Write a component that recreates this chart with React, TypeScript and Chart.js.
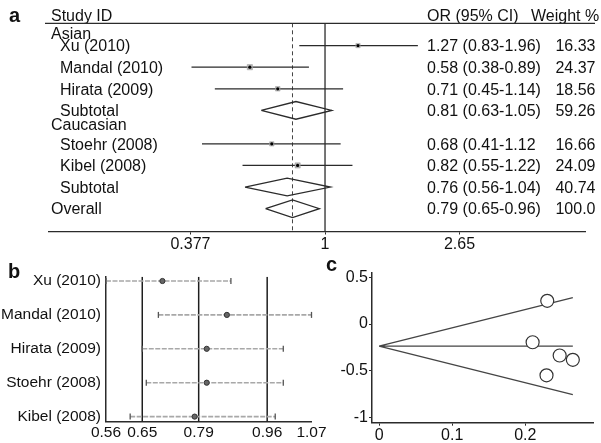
import React, { useEffect, useRef } from "react";
import { Chart, registerables } from "chart.js";
Chart.register(...registerables);

const FONT = "'Liberation Sans', Arial, Helvetica, sans-serif";
const INK = "#111";
const LINE = "#2b2b2b";

// ---------- Panel a : forest plot ----------
const rowLabels = ["Asian", "Xu (2010)", "Mandal (2010)", "Hirata (2009)", "Subtotal", "Caucasian", "Stoehr (2008)", "Kibel (2008)", "Subtotal", "Overall"];
const rowKinds = ["group", "study", "study", "study", "subtotal", "group", "study", "study", "subtotal", "overall"];
const orEstimate = [NaN, 1.27, 0.58, 0.71, 0.81, NaN, 0.68, 0.82, 0.76, 0.79];
const orLower = [NaN, 0.83, 0.38, 0.45, 0.63, NaN, 0.41, 0.55, 0.56, 0.65];
const orUpper = [NaN, 1.96, 0.89, 1.14, 1.05, NaN, 1.12, 1.22, 1.04, 0.96];
const orTexts = ["", "1.27 (0.83-1.96)", "0.58 (0.38-0.89)", "0.71 (0.45-1.14)", "0.81 (0.63-1.05)", "", "0.68 (0.41-1.12", "0.82 (0.55-1.22)", "0.76 (0.56-1.04)", "0.79 (0.65-0.96)"];
const weightTexts = ["", "16.33", "24.37", "18.56", "59.26", "", "16.66", "24.09", "40.74", "100.0"];
const studyWeights = [NaN, 16.33, 24.37, 18.56, NaN, NaN, 16.66, 24.09, NaN, NaN];
const forestTicks = [0.377, 1, 2.65];
const forestTickLabels = ["0.377", "1", "2.65"];
const nullEffect = 1;
const overallOR = 0.79;

// ---------- Panel b : sensitivity analysis ----------
const sensStudies = ["Xu (2010)", "Mandal (2010)", "Hirata (2009)", "Stoehr (2008)", "Kibel (2008)"];
const sensEstimate = [0.7, 0.86, 0.81, 0.81, 0.78];
const sensLower = [0.56, 0.69, 0.65, 0.66, 0.62];
const sensUpper = [0.87, 1.07, 1.0, 1.0, 0.98];
const sensTicks = [0.56, 0.65, 0.79, 0.96, 1.07];
const sensRefLines = [0.65, 0.79, 0.96];

// ---------- Panel c : Begg's funnel plot ----------
const funnelSE = [0.23, 0.21, 0.247, 0.265, 0.229];
const funnelLogOR = [0.248, -0.195, -0.337, -0.383, -0.549];
const funnelPooled = -0.236;
const funnelMaxSE = 0.265;
const funnelTicksX = [0, 0.1, 0.2];
const funnelTicksY = [0.5, 0, -0.5, -1];

// layout of forest rows (group headers take a shorter step)
function rowPositions(kinds: string[]) {
  const pos: number[] = [];
  let p = 0;
  kinds.forEach((k, i) => {
    if (i > 0) {
      if (k === "group") p += 0.62;
      else if (kinds[i - 1] === "group") p += i - 1 === 0 ? 0.56 : 0.93;
      else p += 1;
    }
    pos.push(p);
  });
  return pos;
}
const rowPos = rowPositions(rowKinds);

const font16 = { family: FONT, size: 16 };

function forestConfig(): any {
  const ci: any[] = [];
  const diamonds: any[] = [];
  const boxes: any[] = [];
  const boxR: number[] = [];
  const dots: any[] = [];
  const h = 0.41;
  rowKinds.forEach((k, i) => {
    const y = rowPos[i];
    if (k === "study") {
      ci.push({ x: orLower[i], y }, { x: orUpper[i], y }, { x: orUpper[i], y: null });
      boxes.push({ x: orEstimate[i], y });
      boxR.push(0.75 * Math.sqrt(studyWeights[i]));
      dots.push({ x: orEstimate[i], y });
    } else if (k === "subtotal" || k === "overall") {
      diamonds.push(
        { x: orLower[i], y },
        { x: orEstimate[i], y: y - h },
        { x: orUpper[i], y },
        { x: orEstimate[i], y: y + h },
        { x: orLower[i], y },
        { x: orLower[i], y: null }
      );
    }
  });
  const yMin = -0.472;
  const yMax = 9.167;
  const textPlugin = {
    id: "forestText",
    afterDraw(chart: any) {
      const { ctx, chartArea } = chart;
      const ys = chart.scales.y;
      ctx.save();
      ctx.fillStyle = INK;
      ctx.font = `16px ${FONT}`;
      ctx.textBaseline = "alphabetic";
      ctx.textAlign = "left";
      ctx.fillText("Study ID", 51, 20.5);
      ctx.fillText("OR (95% CI)", 427, 20.5);
      ctx.fillText("Weight %", 531, 20.5);
      ctx.strokeStyle = LINE;
      ctx.lineWidth = 1.3;
      ctx.beginPath();
      ctx.moveTo(45, chartArea.top);
      ctx.lineTo(595, chartArea.top);
      ctx.stroke();
      rowLabels.forEach((lab, i) => {
        const py = ys.getPixelForValue(rowPos[i]) + 5.75;
        const k = rowKinds[i];
        ctx.textAlign = "left";
        ctx.fillText(lab, k === "group" || k === "overall" ? 51 : 60, py);
        ctx.fillText(orTexts[i], 427, py);
        ctx.textAlign = "right";
        ctx.fillText(weightTexts[i], 595.5, py);
      });
      ctx.textAlign = "left";
      ctx.font = `bold 20px ${FONT}`;
      ctx.fillText("a", 9, 21.7);
      ctx.restore();
    },
  };
  return {
    type: "scatter",
    data: {
      datasets: [
        { data: dots, pointRadius: 1.6, pointBackgroundColor: "#000", pointBorderWidth: 0, order: 0 },
        { data: boxes, pointStyle: "rect", pointRadius: boxR, pointBackgroundColor: "#b4b4b4", pointBorderColor: "#9a9a9a", pointBorderWidth: 0.5, order: 1 },
        { data: ci, showLine: true, borderColor: LINE, borderWidth: 1.3, pointRadius: 0, order: 2 },
        { data: diamonds, showLine: true, borderColor: LINE, borderWidth: 1.3, pointRadius: 0, order: 3 },
        { data: [{ x: nullEffect, y: yMin }, { x: nullEffect, y: yMax }], showLine: true, borderColor: LINE, borderWidth: 1.3, pointRadius: 0, order: 4 },
        { data: [{ x: overallOR, y: yMin }, { x: overallOR, y: yMax }], showLine: true, borderColor: "#444", borderWidth: 1, borderDash: [4, 3], pointRadius: 0, order: 5 },
      ],
    },
    options: {
      animation: false,
      responsive: false,
      devicePixelRatio: 1,
      layout: { padding: { left: 49, right: 16, top: 23.3, bottom: 0 } },
      plugins: { legend: { display: false }, tooltip: { enabled: false } },
      scales: {
        x: {
          type: "logarithmic",
          min: 0.1353,
          max: 6.58,
          afterBuildTicks: (s: any) => { s.ticks = forestTicks.map((v) => ({ value: v })); },
          afterFit: (s: any) => { s.height = 256 - 231.5; },
          ticks: { font: font16, color: INK, padding: 0, maxRotation: 0, autoSkip: false, callback: (_v: any, i: number) => forestTickLabels[i] },
          grid: { drawOnChartArea: false, drawTicks: true, tickLength: 3, color: LINE, lineWidth: 1 },
          border: { color: LINE, width: 1.3 },
        },
        y: { type: "linear", display: false, reverse: true, min: yMin, max: yMax },
      },
    },
    plugins: [textPlugin],
  };
}

function sensConfig(): any {
  const bars: any[] = [];
  const caps: any[] = [];
  const dots: any[] = [];
  sensStudies.forEach((_, i) => {
    bars.push({ x: sensLower[i], y: i }, { x: sensUpper[i], y: i }, { x: sensUpper[i], y: null });
    caps.push({ x: sensLower[i], y: i }, { x: sensUpper[i], y: i });
    dots.push({ x: sensEstimate[i], y: i });
  });
  const yMin = -0.127;
  const yMax = 4.15;
  const refs = sensRefLines.map((v, j) => ({
    data: [{ x: v, y: yMin }, { x: v, y: yMax }],
    showLine: true,
    borderColor: "#1e1e1e",
    borderWidth: 1.5,
    pointRadius: 0,
    order: 5 + j,
  }));
  const letter = {
    id: "letterB",
    afterDraw(chart: any) {
      const { ctx } = chart;
      ctx.save();
      ctx.fillStyle = INK;
      ctx.font = `bold 20px ${FONT}`;
      ctx.textAlign = "left";
      ctx.textBaseline = "alphabetic";
      ctx.fillText("b", 8, 28.3);
      ctx.restore();
    },
  };
  return {
    type: "scatter",
    data: {
      datasets: [
        { data: dots, pointRadius: 2.6, pointBackgroundColor: "#666", pointBorderColor: "#333", pointBorderWidth: 1, order: 0 },
        { data: caps, pointStyle: "line", pointRotation: 90, pointRadius: 3, pointBorderColor: "#555", pointBorderWidth: 1.3, clip: false, order: 1 },
        { data: bars, showLine: true, borderColor: "#a8a8a8", borderWidth: 1.6, borderDash: [5, 1.5], pointRadius: 0, order: 2 },
        ...refs,
      ],
    },
    options: {
      animation: false,
      responsive: false,
      devicePixelRatio: 1,
      layout: { padding: { left: 0, right: 18.5, top: 26.7, bottom: 0 } },
      plugins: { legend: { display: false }, tooltip: { enabled: false } },
      scales: {
        x: {
          type: "linear",
          min: 0.56,
          max: 1.07,
          afterBuildTicks: (s: any) => { s.ticks = sensTicks.map((v) => ({ value: v })); },
          afterFit: (s: any) => { s.height = 193 - 171.7; },
          ticks: { font: { family: FONT, size: 15.5 }, color: INK, padding: 2, maxRotation: 0, autoSkip: false, callback: (v: any) => Number(v).toFixed(2) },
          grid: { display: false, drawTicks: false },
          border: { color: LINE, width: 1.5 },
        },
        y: {
          type: "linear",
          reverse: true,
          min: yMin,
          max: yMax,
          afterBuildTicks: (s: any) => { s.ticks = sensStudies.map((_, i) => ({ value: i })); },
          afterFit: (s: any) => { s.width = 106; },
          ticks: { font: { family: FONT, size: 15.5 }, color: INK, padding: 5, autoSkip: false, callback: (v: any) => sensStudies[v] ?? "" },
          grid: { display: false, drawTicks: false },
          border: { color: LINE, width: 1.5 },
        },
      },
    },
    plugins: [letter],
  };
}

function funnelConfig(): any {
  const lines: any[] = [];
  const z = 1.96;
  [0, 1, -1].forEach((s) => {
    lines.push(
      { x: 0, y: funnelPooled },
      { x: funnelMaxSE, y: funnelPooled + s * z * funnelMaxSE },
      { x: funnelMaxSE, y: null }
    );
  });
  const pts = funnelSE.map((se, i) => ({ x: se, y: funnelLogOR[i] }));
  const letter = {
    id: "letterC",
    afterDraw(chart: any) {
      const { ctx } = chart;
      ctx.save();
      ctx.fillStyle = INK;
      ctx.font = `bold 20px ${FONT}`;
      ctx.textAlign = "left";
      ctx.textBaseline = "alphabetic";
      ctx.fillText("c", 26, 20.7);
      ctx.restore();
    },
  };
  return {
    type: "scatter",
    data: {
      datasets: [
        { data: pts, pointRadius: 6.5, pointBackgroundColor: "#fff", pointBorderColor: "#333", pointBorderWidth: 1.2, order: 0 },
        { data: lines, showLine: true, borderColor: "#444", borderWidth: 1.3, pointRadius: 0, order: 1 },
      ],
    },
    options: {
      animation: false,
      responsive: false,
      devicePixelRatio: 1,
      layout: { padding: { left: 0, right: 1, top: 22.7, bottom: 0 } },
      plugins: { legend: { display: false }, tooltip: { enabled: false } },
      scales: {
        x: {
          type: "linear",
          min: -0.0097,
          max: 0.293,
          afterBuildTicks: (s: any) => { s.ticks = funnelTicksX.map((v) => ({ value: v })); },
          afterFit: (s: any) => { s.height = 193 - 172.7; },
          ticks: { font: font16, color: INK, padding: 0, maxRotation: 0, autoSkip: false, callback: (v: any) => String(Number(v)) },
          grid: { drawOnChartArea: false, drawTicks: true, tickLength: 3, color: LINE },
          border: { color: LINE, width: 1.5 },
        },
        y: {
          type: "linear",
          min: -1.056,
          max: 0.549,
          afterBuildTicks: (s: any) => { s.ticks = funnelTicksY.map((v) => ({ value: v })); },
          afterFit: (s: any) => { s.width = 72; },
          ticks: { font: font16, color: INK, padding: 1, autoSkip: false, callback: (v: any) => String(Number(v)) },
          grid: { drawOnChartArea: false, drawTicks: true, tickLength: 3, color: LINE },
          border: { color: LINE, width: 1.5 },
        },
      },
    },
    plugins: [letter],
  };
}

export default function App() {
  const refA = useRef<HTMLCanvasElement>(null);
  const refB = useRef<HTMLCanvasElement>(null);
  const refC = useRef<HTMLCanvasElement>(null);
  useEffect(() => {
    const charts = [
      new Chart(refA.current as HTMLCanvasElement, forestConfig()),
      new Chart(refB.current as HTMLCanvasElement, sensConfig()),
      new Chart(refC.current as HTMLCanvasElement, funnelConfig()),
    ];
    return () => charts.forEach((c) => c.destroy());
  }, []);
  const abs = (l: number, t: number, w: number, h: number): React.CSSProperties => ({
    position: "absolute", left: l, top: t, width: w, height: h,
  });
  return (
    <div style={{ position: "absolute", left: 0, top: 0, width: 601, height: 443, background: "#fff", overflow: "hidden" }}>
      <canvas ref={refA} width={601} height={256} style={abs(0, 0, 601, 256)} />
      <canvas ref={refB} width={330} height={193} style={abs(0, 250, 330, 193)} />
      <canvas ref={refC} width={301} height={193} style={abs(300, 250, 301, 193)} />
    </div>
  );
}
